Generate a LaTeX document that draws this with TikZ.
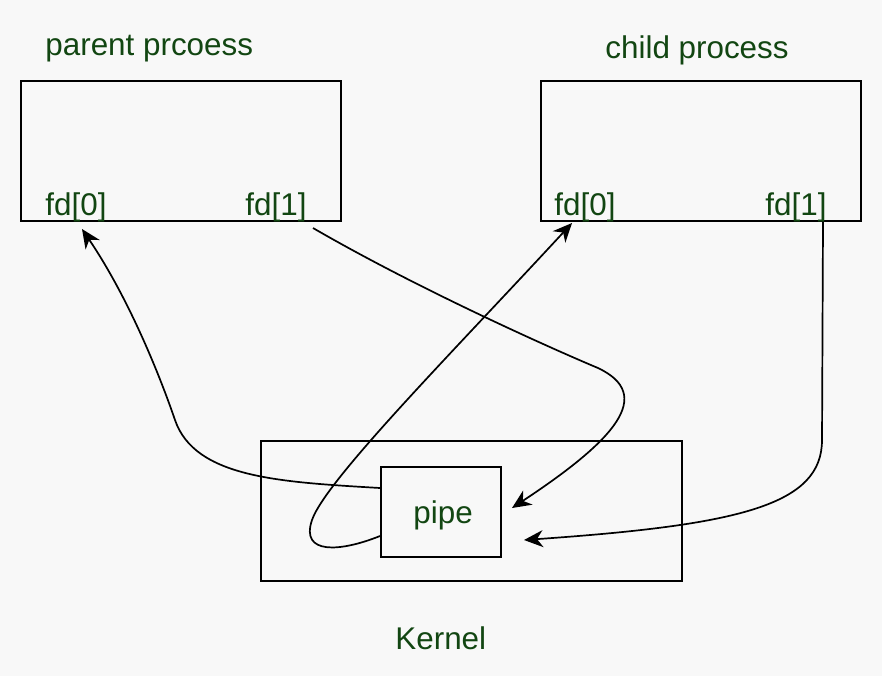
\documentclass[tikz,border=0pt]{standalone}
\usepackage{fontspec}
\setmainfont{Liberation Sans}
\usetikzlibrary{arrows.meta,calc}
\definecolor{txtgreen}{RGB}{18,70,18}
\definecolor{bgcol}{RGB}{248,248,248}
\begin{document}
\begin{tikzpicture}[x=0.5pt,y=-0.5pt,
  box/.style={draw=black,line width=1pt,inner sep=0pt},
  lbl/.style={text=txtgreen,inner sep=0pt,anchor=base west,font=\fontsize{15.7pt}{18pt}\selectfont},
  conn/.style={draw=black,line width=0.85pt},
  arr/.style={conn,-{Stealth[length=9.5pt,width=8.5pt,inset=3pt]}}]
\fill[bgcol] (0,0) rectangle (882,676);
\useasboundingbox (0,0) rectangle (882,676);
% boxes
\node[box,minimum width=160pt,minimum height=70pt] (pbox) at (181,151) {};
\node[box,minimum width=160pt,minimum height=70pt] (cbox) at (701,151) {};
\node[box,minimum width=210.5pt,minimum height=70pt] (kbox) at (471.5,511) {};
\node[box,minimum width=60pt,minimum height=45pt] (pipe) at (441,512) {};
% labels
\node[lbl] (ptitle) at (45,55) {parent prcoess};
\node[lbl] (ctitle) at (605,58) {child process};
\node[lbl] (pfd0) at (45,215) {fd[0]};
\node[lbl] (pfd1) at (245,215) {fd[1]};
\node[lbl] (cfd0) at (554,215) {fd[0]};
\node[lbl] (cfd1) at (765,215) {fd[1]};
\node[lbl] (pipetxt) at (413,523) {pipe};
\node[lbl] (ktxt) at (395,649) {Kernel};
% connector ends
\coordinate (p0in) at ($(pbox.south west)+(62,7)$);
\coordinate (p1out) at ($(pbox.south east)+(-29,6)$);
\coordinate (c0in) at ($(cbox.south west)+(32,1)$);
\coordinate (c1out) at ($(cbox.south east)+(-39,0)$);
\coordinate (pipeA) at ($(pipe.west)+(0,-24)$);
\coordinate (pipeB) at ($(pipe.west)+(0,24)$);
\coordinate (pipeC) at ($(pipe.east)+(10,-4)$);
\coordinate (pipeD) at ($(pipe.east)+(22,28)$);
% connectors
\draw[arr] (pipeA) .. controls (280,482) and (195,478) .. (175,420)
  .. controls (161,379) and (130,300) .. (p0in);
\draw[arr] (p1out) .. controls (420,290) and (555,350) .. (598,368)
  .. controls (655,395) and (615,440) .. (pipeC);
\draw[arr] (pipeB) .. controls (340,552) and (300,555) .. (312,520)
  .. controls (326,480) and (450,355) .. (c0in);
\draw[arr] (c1out) -- (822,440) .. controls (822,505) and (740,525) .. (pipeD);
\end{tikzpicture}
\end{document}
